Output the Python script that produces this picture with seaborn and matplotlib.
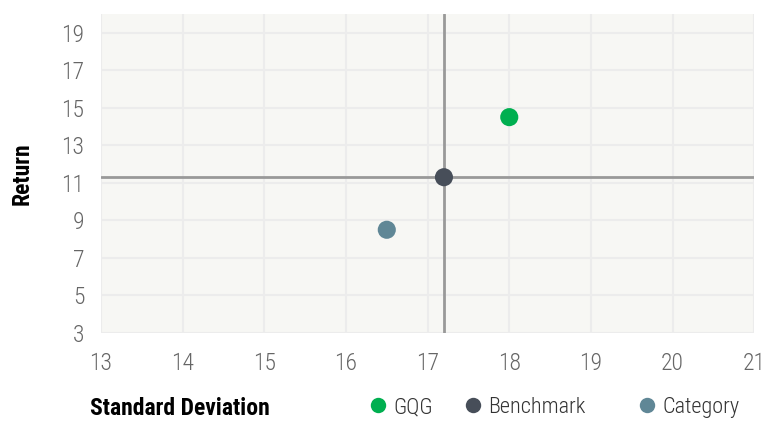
import matplotlib
matplotlib.use("Agg")
import matplotlib.pyplot as plt
import seaborn as sns
import pandas as pd

# --- Data ---
names = ["GQG", "Benchmark", "Category"]
std_dev = [18.0, 17.2, 16.5]
returns = [14.5, 11.3, 8.5]
colors = ["#00af50", "#474e59", "#608796"]
x_ticks = [13, 14, 15, 16, 17, 18, 19, 20, 21]
y_ticks = [3, 5, 7, 9, 11, 13, 15, 17, 19]

df = pd.DataFrame({"name": names, "std": std_dev, "ret": returns})

sns.set_theme(style="white")
plt.rcParams['font.family'] = ['Roboto Condensed', 'DejaVu Sans']
plt.rcParams['font.stretch'] = 'condensed'

fig = plt.figure(figsize=(7.64, 4.21), dpi=100)
ax = fig.add_axes([0.1322, 0.209, 0.855, 0.758])
ax.set_facecolor("#f7f7f4")

# reference cross at the benchmark
ax.axvline(std_dev[1], color="#999999", lw=2, zorder=1)
ax.axhline(returns[1], color="#999999", lw=2, zorder=1)

sns.scatterplot(data=df, x="std", y="ret", hue="name", palette=colors,
                s=170, edgecolor="none", ax=ax, zorder=3)

ax.set_xlim(13, 21)
ax.set_ylim(3, 20)
ax.set_xticks(x_ticks)
ax.set_yticks(y_ticks)
ax.grid(True, color="#ececec", lw=1.5, zorder=0)
ax.set_axisbelow(True)
for s in ax.spines.values():
    s.set_visible(False)
ax.tick_params(axis="both", length=0, labelsize=17, labelcolor="#666666")
ax.tick_params(axis="x", pad=14)
ax.tick_params(axis="y", pad=12)
for lab in ax.get_xticklabels() + ax.get_yticklabels():
    lab.set_fontweight("light")

ax.set_xlabel("")
ax.set_ylabel("Return", fontsize=17, fontweight="bold", color="black", labelpad=20)
fig.text(0.118, 0.015, "Standard Deviation", fontsize=17, fontweight="bold", color="black")

# one legend entry per slot, as in the reference
handles, labels = ax.get_legend_handles_labels()
ax.get_legend().remove()
for h, l, x0 in zip(handles, labels, [0.466, 0.59, 0.818]):
    leg = fig.legend([h], [l], loc="lower left", bbox_to_anchor=(x0, -0.014),
                     frameon=False, fontsize=16, handletextpad=0.1,
                     borderaxespad=0, handlelength=1.2, markerscale=0.85)
    for t in leg.get_texts():
        t.set_color("#333333")
        t.set_fontweight("light")

fig.savefig("out.png", dpi=100)
